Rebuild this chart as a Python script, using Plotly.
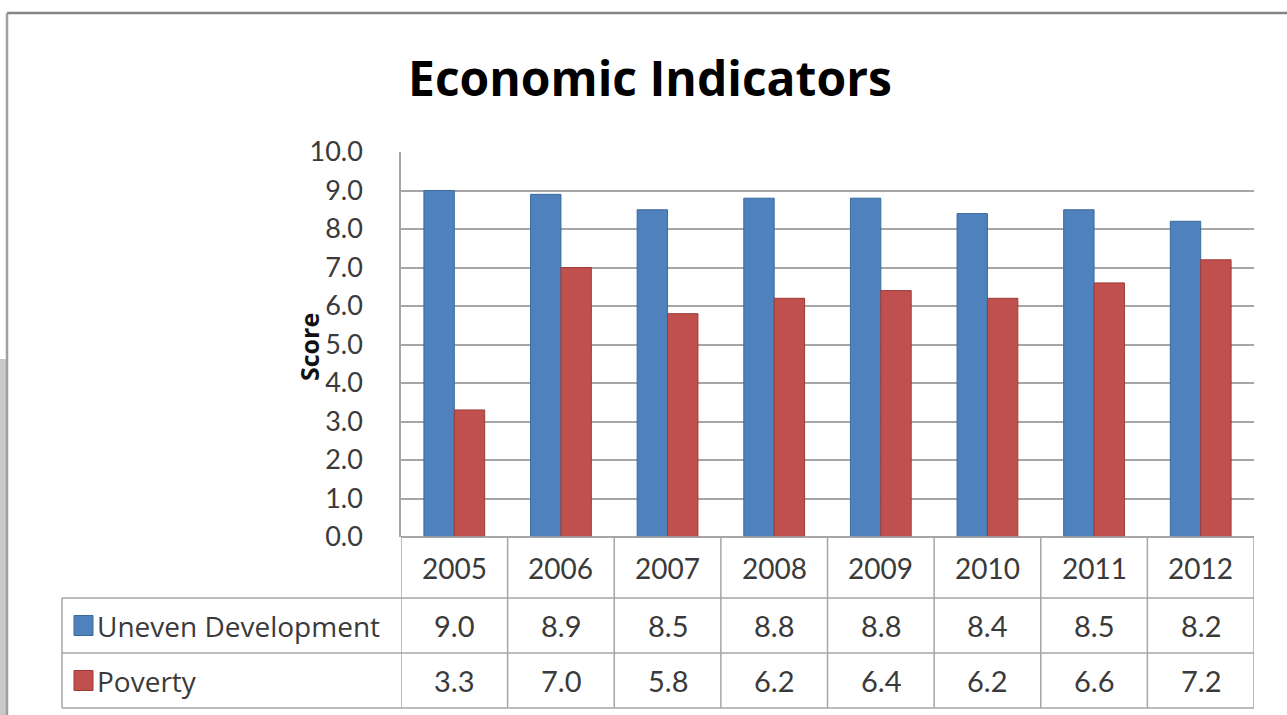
import plotly.graph_objects as go

# ---- data ----
years = ["2005", "2006", "2007", "2008", "2009", "2010", "2011", "2012"]
series_names = ["Uneven Development", "Poverty"]
uneven = [9.0, 8.9, 8.5, 8.8, 8.8, 8.4, 8.5, 8.2]
poverty = [3.3, 7.0, 5.8, 6.2, 6.4, 6.2, 6.6, 7.2]
series_values = [uneven, poverty]
y_ticks = [0, 1, 2, 3, 4, 5, 6, 7, 8, 9, 10]

W, H = 1287, 715
def px(x):
    return x / W
def py(y):
    return 1 - y / H

colors = ["#4F81BD", "#C0504D"]
edges = ["#3B6A9E", "#9E3B39"]
grid = "#A6A6A6"
txt = "#3A3A3A"
FONT = "Lato"
FONT2 = "Open Sans"

fig = go.Figure()
for name, vals, c, e in zip(series_names, series_values, colors, edges):
    fig.add_trace(go.Bar(x=years, y=vals, name=name, marker=dict(color=c, line=dict(color=e, width=1))))

# plot/table geometry (pixels)
PL, PR, PT, PB = 401, 1254, 152, 537
ROW1, ROW2, ROW3 = 598, 653, 708
TL = 62

shapes = []
line = dict(color=grid, width=1.5)
# chart border
shapes.append(dict(type="rect", xref="paper", yref="paper", x0=0, x1=px(6), y0=0, y1=py(359),
                   fillcolor="#C9C9C9", line=dict(width=0), layer="below"))
shapes.append(dict(type="line", xref="paper", yref="paper", x0=px(7), x1=1, y0=py(13), y1=py(13),
                   line=dict(color="#858585", width=2.5)))
shapes.append(dict(type="line", xref="paper", yref="paper", x0=px(7), x1=px(7), y0=py(13), y1=0,
                   line=dict(color="#A0A0A0", width=2.5)))
# table horizontal lines
shapes.append(dict(type="line", xref="paper", yref="paper", x0=px(PL), x1=px(PR), y0=py(PB), y1=py(PB), line=line))
for yy in [ROW1, ROW2, ROW3]:
    shapes.append(dict(type="line", xref="paper", yref="paper", x0=px(TL), x1=px(PR), y0=py(yy), y1=py(yy), line=line))
# table vertical lines at category boundaries
for i in range(len(years) + 1):
    shapes.append(dict(type="line", xref="x", yref="paper", x0=i - 0.5, x1=i - 0.5, y0=py(PB), y1=py(ROW3), line=line))
shapes.append(dict(type="line", xref="paper", yref="paper", x0=px(TL), x1=px(TL), y0=py(ROW1), y1=py(ROW3), line=line))

annotations = []
# year header
for i, yr in enumerate(years):
    annotations.append(dict(x=i, xref="x", y=py((PB + ROW1) / 2), yref="paper", text=yr, showarrow=False,
                            font=dict(family=FONT, size=28, color=txt), yanchor="middle", xanchor="center"))
# value rows + legend keys
row_centers = [(ROW1 + ROW2) / 2, (ROW2 + ROW3) / 2]
for name, vals, c, e, rc in zip(series_names, series_values, colors, edges, row_centers):
    for i, v in enumerate(vals):
        annotations.append(dict(x=i, xref="x", y=py(rc), yref="paper", text=f"{v:.1f}", showarrow=False,
                                font=dict(family=FONT, size=29, color=txt), yanchor="middle", xanchor="center"))
    shapes.append(dict(type="rect", xref="paper", yref="paper", x0=px(74), x1=px(93), y0=py(rc + 10), y1=py(rc - 10),
                       fillcolor=c, line=dict(color=e, width=1)))
    annotations.append(dict(x=px(95), xref="paper", y=py(rc), yref="paper", text=name, showarrow=False,
                            font=dict(family=FONT2, size=28, color=txt), yanchor="middle", xanchor="left"))
# y axis title
annotations.append(dict(x=px(309), xref="paper", y=py(347), yref="paper", text="<b>Score</b>", textangle=-90,
                        showarrow=False, font=dict(family=FONT2, size=25, color="#111111"),
                        xanchor="center", yanchor="middle"))
# title
annotations.append(dict(x=px(650), xref="paper", y=py(77), yref="paper", text="<b>Economic Indicators</b>",
                        showarrow=False, font=dict(family=FONT2, size=48, color="#000000"),
                        xanchor="center", yanchor="middle"))

fig.update_layout(
    width=W, height=H,
    margin=dict(l=0, r=0, t=0, b=0, autoexpand=False),
    paper_bgcolor="white", plot_bgcolor="white",
    showlegend=False,
    barmode="group", bargap=0.43, bargroupgap=0,
    shapes=shapes, annotations=annotations,
    xaxis=dict(type="category", domain=[px(PL), px(PR)], range=[-0.5, len(years) - 0.5], showticklabels=False,
               showgrid=False, zeroline=False, showline=False, fixedrange=True),
    yaxis=dict(domain=[py(PB), py(PT)], range=[0, 10], tickvals=y_ticks, tickformat=".1f",
               showgrid=True, gridcolor=grid, gridwidth=1.5, zeroline=True, zerolinecolor=grid, zerolinewidth=1.5,
               showline=True, linecolor=grid, linewidth=1.5, ticks="", ticklabelstandoff=31,
               tickfont=dict(family=FONT, size=27, color=txt), fixedrange=True, automargin=False),
)

fig.write_html("out.html", config={"displayModeBar": False},
               post_script="document.body.style.margin='0';")
